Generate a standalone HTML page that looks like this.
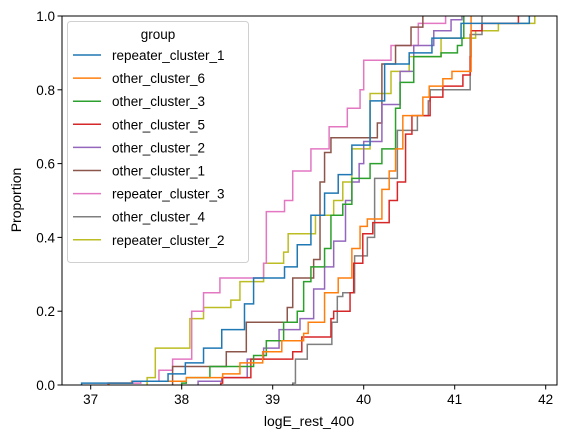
<!DOCTYPE html>
<html><head><meta charset="utf-8"><style>
html,body{margin:0;padding:0;background:#fff;}
svg{display:block;font-family:"Liberation Sans","DejaVu Sans",sans-serif;}
</style></head><body>
<svg id="chart" width="567" height="438" viewBox="0 0 567 438" xmlns="http://www.w3.org/2000/svg">
<rect x="0" y="0" width="567" height="438" fill="#fff"/>
<g id="series"></g>
<rect x="62" y="16" width="495" height="369" fill="none" stroke="#000" stroke-width="1"/>
<g id="xticks"></g>
<g id="yticks"></g>
<text x="309" y="426" font-size="14" text-anchor="middle">logE_rest_400</text>
<text transform="translate(21,200) rotate(-90)" font-size="14" text-anchor="middle">Proportion</text>
<g id="legend"></g>
</svg>
<script>
const groups = ["repeater_cluster_1","other_cluster_6","other_cluster_3","other_cluster_5","other_cluster_2","other_cluster_1","repeater_cluster_3","other_cluster_4","repeater_cluster_2"];
const xTicks = [37,38,39,40,41,42];
const yTicks = [0,0.2,0.4,0.6,0.8,1.0];
const yTickLabels = ["0.0","0.2","0.4","0.6","0.8","1.0"];
const rc1X = [36.9,37.46,37.85,38.04,38.24,38.44,38.69,38.79,39.13,39.27,39.42,39.57,39.72,39.87,40.07,40.23,40.5,40.75,41.07,41.82];
const rc1P = [0.005,0.01,0.03,0.06,0.1,0.15,0.22,0.29,0.32,0.38,0.46,0.52,0.57,0.65,0.77,0.87,0.9,0.94,0.98,1.0];
const oc6X = [37.2,37.45,38.05,38.45,38.64,38.89,39.1,39.34,39.39,39.57,39.72,39.87,39.96,40.04,40.2,40.28,40.35,40.43,40.65,40.72,40.87,40.97,41.18];
const oc6P = [0.005,0.01,0.02,0.03,0.06,0.09,0.12,0.14,0.17,0.25,0.29,0.37,0.43,0.45,0.53,0.58,0.64,0.73,0.78,0.81,0.83,0.85,1.0];
const oc3X = [38.0,38.05,38.31,38.79,38.93,39.12,39.27,39.34,39.42,39.57,39.64,39.77,39.87,40.07,40.2,40.35,40.4,40.55,40.85,41.03,41.08,41.1];
const oc3P = [0.005,0.02,0.05,0.08,0.12,0.17,0.2,0.28,0.32,0.37,0.46,0.49,0.56,0.6,0.64,0.75,0.82,0.89,0.9,0.92,0.94,1.0];
const oc5X = [38.43,38.45,38.76,39.22,39.32,39.64,39.67,39.85,39.89,39.99,40.1,40.28,40.37,40.46,40.53,40.73,40.87,41.09,41.17,41.18,41.3,41.7];
const oc5P = [0.005,0.02,0.07,0.09,0.13,0.18,0.2,0.25,0.33,0.41,0.44,0.5,0.55,0.68,0.73,0.78,0.81,0.84,0.89,0.96,0.98,1.0];
const oc2X = [38.18,38.44,38.72,38.9,39.07,39.3,39.45,39.57,39.67,39.8,39.87,39.95,40.0,40.2,40.4,40.55,40.77,40.96,41.08];
const oc2P = [0.01,0.02,0.07,0.1,0.15,0.18,0.26,0.32,0.39,0.5,0.55,0.6,0.66,0.76,0.85,0.92,0.96,0.99,1.0];
const oc1X = [37.9,38.49,38.71,39.16,39.22,39.45,39.52,39.57,39.64,40.15,40.2,40.35,40.52,40.65];
const oc1P = [0.05,0.09,0.17,0.21,0.29,0.34,0.55,0.63,0.67,0.71,0.87,0.92,0.97,1.0];
const rc3X = [37.19,37.55,37.75,37.9,38.11,38.24,38.42,38.9,38.93,39.13,39.22,39.42,39.62,39.82,39.96,40.0,40.3,40.6,40.9];
const rc3P = [0.005,0.01,0.04,0.07,0.2,0.25,0.29,0.33,0.47,0.5,0.58,0.64,0.7,0.75,0.8,0.88,0.92,0.98,1.0];
const oc4X = [39.22,39.25,39.38,39.65,39.71,39.77,39.9,40.04,40.12,40.37,40.59,40.71,40.73,41.17,41.3];
const oc4P = [0.005,0.07,0.11,0.17,0.24,0.25,0.35,0.4,0.56,0.69,0.73,0.77,0.8,0.95,1.0];
const rc2X = [37.62,37.71,38.09,38.24,38.54,38.64,38.9,39.12,39.17,39.47,39.67,39.77,39.87,40.07,40.3,40.5,40.85,41.23,41.48,41.88];
const rc2P = [0.02,0.1,0.18,0.21,0.23,0.28,0.33,0.36,0.41,0.46,0.5,0.55,0.64,0.79,0.85,0.89,0.94,0.96,0.98,1.0];

const colors = ["#1f77b4","#ff7f0e","#2ca02c","#d62728","#9467bd","#8c564b","#e377c2","#7f7f7f","#bcbd22"];
const seriesX = [rc1X,oc6X,oc3X,oc5X,oc2X,oc1X,rc3X,oc4X,rc2X];
const seriesP = [rc1P,oc6P,oc3P,oc5P,oc2P,oc1P,rc3P,oc4P,rc2P];

const NS = "http://www.w3.org/2000/svg";
function xs(v){ return 90.7 + (v - 37) * 91; }
function ys(p){ return 385 - p * 369; }

const sg = document.getElementById("series");
for (let s = seriesX.length - 1; s >= 0; s--) {
  const X = seriesX[s], P = seriesP[s];
  let d = "M" + xs(X[0]).toFixed(2) + "," + ys(0).toFixed(2);
  for (let i = 0; i < X.length; i++) {
    if (i > 0) d += " H" + xs(X[i]).toFixed(2);
    d += " V" + ys(P[i]).toFixed(2);
  }
  const path = document.createElementNS(NS, "path");
  path.setAttribute("d", d);
  path.setAttribute("fill", "none");
  path.setAttribute("stroke", colors[s]);
  path.setAttribute("stroke-width", "1.5");
  
  
  sg.appendChild(path);
}

const xg = document.getElementById("xticks");
xTicks.forEach(function(t){
  const x = xs(t);
  const ln = document.createElementNS(NS, "line");
  ln.setAttribute("x1", x); ln.setAttribute("x2", x);
  ln.setAttribute("y1", 385); ln.setAttribute("y2", 389.5);
  ln.setAttribute("stroke", "#000");
  
  
  xg.appendChild(ln);
  const tx = document.createElementNS(NS, "text");
  tx.setAttribute("x", x); tx.setAttribute("y", 404);
  tx.setAttribute("font-size", "13.5");
  tx.setAttribute("text-anchor", "middle");
  tx.textContent = String(t);
  
  
  xg.appendChild(tx);
});

const yg = document.getElementById("yticks");
yTicks.forEach(function(t, i){
  const y = ys(t);
  const ln = document.createElementNS(NS, "line");
  ln.setAttribute("x1", 57.5); ln.setAttribute("x2", 62);
  ln.setAttribute("y1", y); ln.setAttribute("y2", y);
  ln.setAttribute("stroke", "#000");
  
  
  yg.appendChild(ln);
  const tx = document.createElementNS(NS, "text");
  tx.setAttribute("x", 55); tx.setAttribute("y", y + 5);
  tx.setAttribute("font-size", "13.5");
  tx.setAttribute("text-anchor", "end");
  tx.textContent = yTickLabels[i];
  
  
  yg.appendChild(tx);
});

const lg = document.getElementById("legend");
const box = document.createElementNS(NS, "rect");
box.setAttribute("x", 67.5); box.setAttribute("y", 21.5);
box.setAttribute("width", 181); box.setAttribute("height", 241);
box.setAttribute("rx", 3);
box.setAttribute("fill", "#fff"); box.setAttribute("fill-opacity", "0.8");
box.setAttribute("stroke", "#d0d0d0");


lg.appendChild(box);
const title = document.createElementNS(NS, "text");
title.setAttribute("x", 158); title.setAttribute("y", 39);
title.setAttribute("font-size", "13.5");
title.setAttribute("text-anchor", "middle");
title.textContent = "group";


lg.appendChild(title);
groups.forEach(function(g, i){
  const y = 55 + i * 23.1;
  const ln = document.createElementNS(NS, "line");
  ln.setAttribute("x1", 73); ln.setAttribute("x2", 101);
  ln.setAttribute("y1", y); ln.setAttribute("y2", y);
  ln.setAttribute("stroke", colors[i]); ln.setAttribute("stroke-width", "1.5");
  
  
  lg.appendChild(ln);
  const tx = document.createElementNS(NS, "text");
  tx.setAttribute("x", 112); tx.setAttribute("y", y + 5);
  tx.setAttribute("font-size", "13.5");
  tx.textContent = g;
  
  
  lg.appendChild(tx);
});
</script>
</body></html>
